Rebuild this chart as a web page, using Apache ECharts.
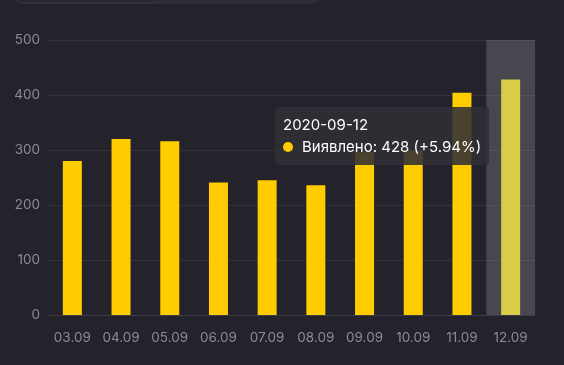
<!DOCTYPE html>
<html><head><meta charset="utf-8">
<script src="https://cdn.jsdelivr.net/npm/echarts@6/dist/echarts.min.js"></script>
<style>html,body{margin:0;padding:0;background:#24232b;}#c{width:564px;height:365px;}</style>
</head><body><div id="c"></div>
<script>
var categories = ['03.09','04.09','05.09','06.09','07.09','08.09','09.09','10.09','11.09','12.09'];
var dates = ['2020-09-03','2020-09-04','2020-09-05','2020-09-06','2020-09-07','2020-09-08','2020-09-09','2020-09-10','2020-09-11','2020-09-12'];
var detected = [280, 320, 316, 241, 245, 236, 296, 299, 404, 428];
var yTicks = [0, 100, 200, 300, 400, 500];
var seriesName = 'Виявлено';

var chart = echarts.init(document.getElementById('c'));
var font = 'Inter, "Noto Sans", sans-serif';
chart.setOption({
  backgroundColor: '#24232b',
  animation: false,
  textStyle: {fontFamily: font},
  graphic: [
    {type: 'rect', shape: {x: 15, y: -30, width: 302, height: 33, r: 6}, style: {fill: '#2e2d35', stroke: '#3b3a43', lineWidth: 1}},
    {type: 'rect', shape: {x: 16, y: -30, width: 139, height: 32, r: 5}, style: {fill: '#26252d'}}
  ],
  grid: {left: 48, right: 29, top: 40, bottom: 50},
  xAxis: {
    type: 'category', data: categories,
    axisLine: {lineStyle: {color: '#3d3c45'}},
    axisTick: {show: false},
    axisLabel: {color: '#8b8a96', fontSize: 13.5, margin: 16, fontFamily: font}
  },
  yAxis: {
    type: 'value', min: yTicks[0], max: yTicks[yTicks.length-1], interval: 100,
    axisLabel: {color: '#8b8a96', fontSize: 13.5, margin: 8, fontFamily: font},
    splitLine: {lineStyle: {color: '#33323b'}},
    axisLine: {show: false}, axisTick: {show: false}
  },
  tooltip: {
    trigger: 'axis',
    alwaysShowContent: true,
    position: [275, 107],
    backgroundColor: 'rgba(48,47,54,0.88)',
    borderWidth: 0,
    padding: [7, 8],
    extraCssText: 'box-shadow:none;border-radius:3px;',
    textStyle: {color: '#ffffff', fontSize: 15, fontFamily: font},
    axisPointer: {type: 'shadow', shadowStyle: {color: 'rgba(180,180,190,0.25)'}},
    formatter: function (params) {
      var p = params[0];
      var i = p.dataIndex;
      var v = detected[i];
      var ch = i > 0 ? ((v - detected[i-1]) / detected[i-1] * 100) : 0;
      var s = (ch >= 0 ? '+' : '') + ch.toFixed(2) + '%';
      return '<div style="line-height:22px">' + dates[i] + '</div>' +
        '<div style="line-height:22px"><span style="display:inline-block;width:10px;height:10px;border-radius:5px;background:#ffcc00;margin-right:9px;vertical-align:0px"></span>' +
        seriesName + ': ' + v + ' (' + s + ')</div>';
    }
  },
  series: [{
    name: seriesName, type: 'bar', data: detected, barWidth: 19,
    itemStyle: {color: '#ffcc00'},
    emphasis: {itemStyle: {color: '#e5d421'}}
  }]
});
chart.dispatchAction({type: 'showTip', seriesIndex: 0, dataIndex: 9});
chart.dispatchAction({type: 'highlight', seriesIndex: 0, dataIndex: 9});
</script></body></html>
